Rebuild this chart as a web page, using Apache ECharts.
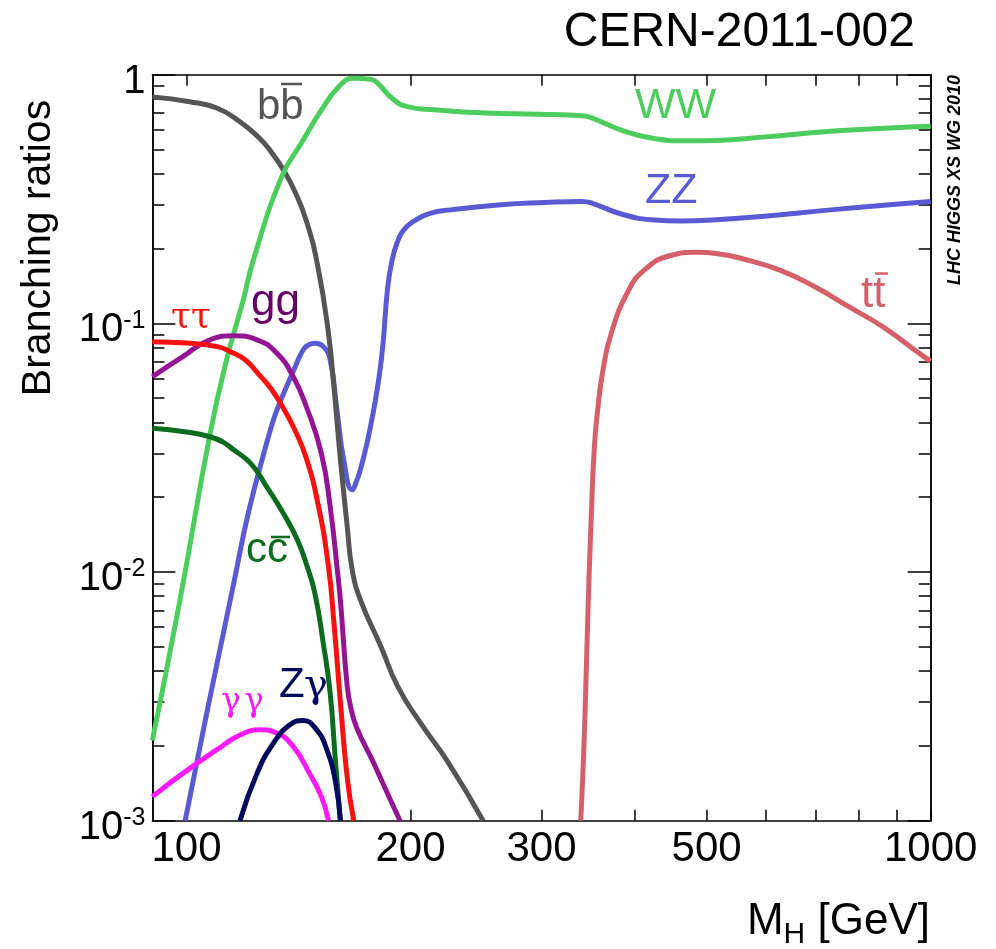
<!DOCTYPE html>
<html>
<head>
<meta charset="utf-8">
<title>Higgs branching ratios</title>
<script src="https://cdn.jsdelivr.net/npm/echarts@6.0.0/dist/echarts.min.js"></script>
<style>
  html, body { margin: 0; padding: 0; background: #fff; }
  #main { width: 996px; height: 949px; }
</style>
</head>
<body>
<div id="main"></div>
<script>
// 数据：横坐标 M_H (GeV)，纵坐标 分支比
var bbMass = [90, 101, 110, 118, 125, 130, 135, 140, 145, 150, 155, 158, 161, 164.4, 167, 171.4, 182.6, 192.3, 206.7, 224.6, 250.4];
var bbBR = [0.813, 0.779, 0.733, 0.647, 0.560, 0.489, 0.414, 0.337, 0.257, 0.172, 0.0937, 0.0534, 0.0284, 0.0154, 0.0102, 0.0077, 0.0050, 0.00346, 0.00245, 0.00172, 0.001];

var wwMass = [90, 98, 107.6, 113.3, 119.2, 123, 134.3, 142.7, 151.8, 161, 167.8, 176.7, 180.8, 188.9, 197.9, 215.1, 252.3, 296.4, 340.1, 351.1, 383, 421.3, 468, 515.2, 593, 733.5, 880.2, 1000];
var wwBR = [0.0021, 0.0077, 0.0361, 0.072, 0.124, 0.18, 0.389, 0.531, 0.721, 0.909, 0.967, 0.958, 0.923, 0.804, 0.744, 0.723, 0.701, 0.694, 0.684, 0.669, 0.600, 0.556, 0.542, 0.544, 0.561, 0.592, 0.610, 0.620];

var zzMass = [99.6, 114.5, 125.6, 139.1, 148.8, 152.8, 156, 159.3, 162.7, 167, 169.5, 171.4, 176.7, 182.6, 186.4, 189, 192, 196, 203.5, 212.5, 226.4, 264.7, 302.7, 340.1, 351.1, 383, 421.3, 463.1, 515.2, 593, 733.5, 880.2, 1000];
var zzBR = [0.001, 0.0077, 0.0265, 0.064, 0.0832, 0.0806, 0.0712, 0.0449, 0.0282, 0.0214, 0.0235, 0.026, 0.0384, 0.07, 0.14, 0.18, 0.212, 0.238, 0.261, 0.277, 0.286, 0.300, 0.306, 0.309, 0.304, 0.276, 0.261, 0.258, 0.261, 0.269, 0.286, 0.300, 0.309];

var ttMass = [338.7, 342.6, 346.1, 349.6, 353.2, 356.9, 362.4, 371.8, 391.8, 412.5, 446, 484.6, 515.2, 562.1, 625.9, 696.8, 774.9, 861.6, 979, 1000];
var ttBR = [0.001, 0.00229, 0.00654, 0.0157, 0.0316, 0.0448, 0.0636, 0.0902, 0.134, 0.164, 0.187, 0.193, 0.191, 0.181, 0.164, 0.141, 0.117, 0.097, 0.0735, 0.0705];

var tautauMass = [90, 100, 110, 115, 120, 125, 130, 135, 140, 145, 150, 155, 158, 161, 164.4, 167.8];
var tautauBR = [0.0844, 0.0833, 0.0806, 0.0765, 0.0712, 0.0625, 0.0545, 0.0455, 0.037, 0.0285, 0.0192, 0.0108, 0.006, 0.003, 0.0015, 0.001];

var ggMass = [90, 98.9, 107.6, 115.7, 124.4, 132.3, 139.1, 144.9, 151.8, 156, 159.3, 161, 164.4, 166.5, 169.5, 177.9, 184.5, 193.6];
var ggBR = [0.0611, 0.0735, 0.0859, 0.0891, 0.0859, 0.0758, 0.0611, 0.0462, 0.03, 0.0183, 0.0105, 0.0077, 0.0035, 0.0028, 0.00235, 0.00174, 0.00137, 0.001];

var ccMass = [90, 100, 107.6, 112, 115.7, 121.9, 128.2, 135, 140.9, 145, 148.8, 152.7, 156, 158.5, 161];
var ccBR = [0.0379, 0.0366, 0.035, 0.0333, 0.031, 0.0274, 0.022, 0.0172, 0.0135, 0.0107, 0.0082, 0.00517, 0.00326, 0.00176, 0.001];

var gagaMass = [90, 98.9, 109.9, 118, 125.6, 132.3, 139.1, 146.3, 151.8, 155.2];
var gagaBR = [0.00125, 0.00155, 0.00193, 0.00221, 0.00232, 0.00225, 0.00199, 0.00155, 0.00125, 0.001];

var zgaMass = [118, 124.4, 130.9, 137.7, 143.4, 149.6, 154.4, 158.6, 161];
var zgaBR = [0.001, 0.00155, 0.00205, 0.00243, 0.00253, 0.00232, 0.00193, 0.00143, 0.001];

// 刻度
var xTickValues = [100, 200, 300, 400, 500, 600, 700, 800, 900, 1000];
var xLabelValues = [100, 200, 300, 500, 1000];
var yMajorValues = [0.001, 0.01, 0.1, 1];
var yMinorValues = [0.002, 0.003, 0.004, 0.005, 0.006, 0.007, 0.008, 0.009,
    0.02, 0.03, 0.04, 0.05, 0.06, 0.07, 0.08, 0.09,
    0.2, 0.3, 0.4, 0.5, 0.6, 0.7, 0.8, 0.9];

var sans = '"Liberation Sans", Arial, Helvetica, sans-serif';
var greek = '"DejaVu Serif", "Liberation Serif", serif';

// 把两个数组拼成点
function toPoints(mass, br) {
    var pts = [];
    for (var i = 0; i < mass.length; i++) {
        pts.push([mass[i], br[i]]);
    }
    return pts;
}

function lineSeries(name, mass, br, color) {
    return {
        name: name,
        type: 'line',
        xAxisIndex: 0,
        yAxisIndex: 0,
        data: toPoints(mass, br),
        showSymbol: false,
        smooth: 0.5,
        clip: true,
        lineStyle: { color: color, width: 5 },
        emphasis: { disabled: true }
    };
}

function xAxisCfg(pos) {
    return {
        type: 'log',
        logBase: 10,
        min: 90,
        max: 1000,
        position: pos,
        axisLine: { show: true, lineStyle: { color: '#000', width: 1.5 } },
        axisTick: {
            show: true, inside: true, length: 11,
            lineStyle: { color: '#000', width: 1.5 },
            customValues: xTickValues
        },
        axisLabel: {
            show: pos === 'bottom',
            customValues: xLabelValues,
            margin: 8,
            fontSize: 42,
            fontFamily: sans,
            color: '#000',
            formatter: function (v) { return String(Math.round(v)); }
        },
        splitLine: { show: false },
        minorTick: { show: false }
    };
}

function yAxisCfg(pos, ticks, len, labels) {
    return {
        type: 'log',
        logBase: 10,
        min: 0.001,
        max: 1,
        position: pos,
        axisLine: { show: true, lineStyle: { color: '#000', width: 1.5 } },
        axisTick: {
            show: true, inside: true, length: len,
            lineStyle: { color: '#000', width: 1.5 },
            customValues: ticks
        },
        axisLabel: {
            show: labels,
            customValues: yMajorValues,
            margin: 7,
            color: '#000',
            padding: [14, 0, 0, 0],
            formatter: function (v) {
                var e = Math.round(Math.log(v) / Math.LN10);
                if (e === 0) return '{b|1}';
                return '{b|10}{s|' + e + '}';
            },
            rich: {
                b: { fontSize: 40, lineHeight: 44, fontFamily: sans, color: '#000' },
                s: { fontSize: 25, lineHeight: 15, verticalAlign: 'top', fontFamily: sans, color: '#000' }
            }
        },
        splitLine: { show: false },
        minorTick: { show: false }
    };
}

var myChart = echarts.init(document.getElementById('main'));

var option = {
    animation: false,
    backgroundColor: '#fff',
    grid: { left: 152.4, right: 65.3, top: 74.7, bottom: 128.3, containLabel: false },
    xAxis: [xAxisCfg('bottom'), xAxisCfg('top')],
    yAxis: [
        yAxisCfg('left', yMajorValues, 23, true),
        yAxisCfg('left', yMinorValues, 12, false),
        yAxisCfg('right', yMajorValues, 23, false),
        yAxisCfg('right', yMinorValues, 12, false)
    ],
    series: [
        lineSeries('ZZ', zzMass, zzBR, '#5a5ad5'),
        lineSeries('bb', bbMass, bbBR, '#555555'),
        lineSeries('WW', wwMass, wwBR, '#4ccd5e'),
        lineSeries('tt', ttMass, ttBR, '#d5606a'),
        lineSeries('cc', ccMass, ccBR, '#0b6b1e'),
        lineSeries('gg', ggMass, ggBR, '#941494'),
        lineSeries('tautau', tautauMass, tautauBR, '#ff1010'),
        lineSeries('gammagamma', gagaMass, gagaBR, '#ff1aff'),
        lineSeries('Zgamma', zgaMass, zgaBR, '#000a5e')
    ],
    graphic: [
        // 标题
        { type: 'text', x: 915, y: 33, style: { text: 'CERN-2011-002', font: '48px ' + sans, fill: '#000', align: 'right', verticalAlign: 'middle' } },
        // 纵轴名
        { type: 'text', x: 39, y: 248, rotation: Math.PI / 2, style: { text: 'Branching ratios', font: '41px ' + sans, fill: '#000', align: 'center', verticalAlign: 'middle' } },
        // 横轴名
        {
            type: 'text', x: 930, y: 922, style: {
                text: '{m|M}{h|H}{m| [GeV]}', align: 'right', verticalAlign: 'middle',
                rich: {
                    m: { font: '44px ' + sans, fill: '#000', lineHeight: 56 },
                    h: { font: '30px ' + sans, fill: '#000', lineHeight: 26, verticalAlign: 'bottom' }
                }
            }
        },
        { type: 'text', x: 955, y: 180, rotation: Math.PI / 2, style: { text: 'LHC HIGGS XS WG 2010', font: 'italic bold 18px ' + sans, fill: '#000', align: 'center', verticalAlign: 'middle' } },
        // 曲线标签
        { type: 'text', x: 257, y: 107, style: { text: 'bb', font: '42px ' + sans, fill: '#555555', align: 'left', verticalAlign: 'middle' } },
        { type: 'line', shape: { x1: 281, y1: 84, x2: 302, y2: 84 }, style: { stroke: '#555555', lineWidth: 2.5 } },
        { type: 'text', x: 635, y: 106, style: { text: 'WW', font: '43px ' + sans, fill: '#4ccd5e', align: 'left', verticalAlign: 'middle' } },
        { type: 'text', x: 645, y: 191, style: { text: 'ZZ', font: '43px ' + sans, fill: '#5a5ad5', align: 'left', verticalAlign: 'middle' } },
        { type: 'text', x: 861, y: 295, style: { text: 'tt', font: '44px ' + sans, fill: '#d5606a', align: 'left', verticalAlign: 'middle' } },
        { type: 'line', shape: { x1: 875, y1: 273.5, x2: 888, y2: 273.5 }, style: { stroke: '#d5606a', lineWidth: 2.5 } },
        { type: 'text', x: 171, y: 317.5, style: { text: 'ττ', font: '36px ' + greek, fill: '#ff1010', align: 'left', verticalAlign: 'middle' } },
        { type: 'text', x: 251, y: 303, style: { text: 'gg', font: '44px ' + sans, fill: '#660066', align: 'left', verticalAlign: 'middle' } },
        { type: 'text', x: 246, y: 550, style: { text: 'cc', font: '42px ' + sans, fill: '#0b6b1e', align: 'left', verticalAlign: 'middle' } },
        { type: 'line', shape: { x1: 271, y1: 537, x2: 290, y2: 537 }, style: { stroke: '#0b6b1e', lineWidth: 2.5 } },
        { type: 'text', x: 279, y: 685, style: { text: 'Z', font: '42px ' + sans, fill: '#000a5e', align: 'left', verticalAlign: 'middle' } },
        { type: 'text', x: 304, y: 687, style: { text: 'γ', font: '40px ' + greek, fill: '#000a5e', align: 'left', verticalAlign: 'middle' } },
        { type: 'text', x: 221, y: 702.5, style: { text: 'γ', font: '33px ' + greek, fill: '#ff1aff', align: 'left', verticalAlign: 'middle' } },
        { type: 'text', x: 244, y: 702.5, style: { text: 'γ', font: '33px ' + greek, fill: '#ff1aff', align: 'left', verticalAlign: 'middle' } }
    ]
};

myChart.setOption(option);
</script>
</body>
</html>
